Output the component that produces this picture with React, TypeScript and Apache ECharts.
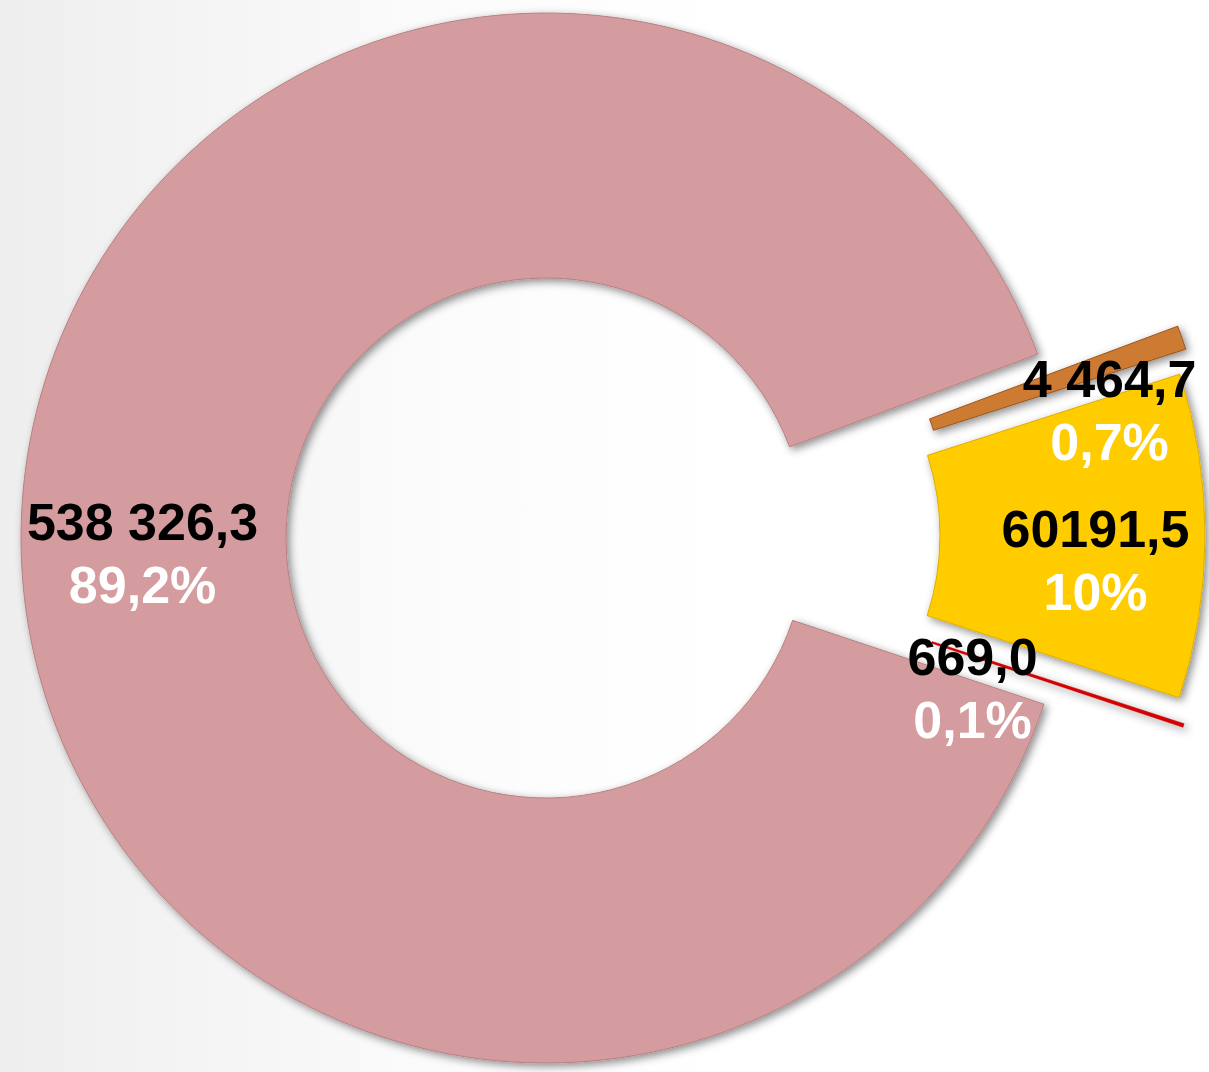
import React, { useEffect, useRef } from "react";
import * as echarts from "echarts";

// Data (clockwise order starting at the top of the gap)
const sliceNames = ["Сегмент 2", "Сегмент 3", "Сегмент 4", "Сегмент 1"];
const sliceValues = [4464.7, 60191.5, 669.0, 538326.3];
const valueLabels = ["4 464,7", "60191,5", "669,0", "538 326,3"];
const percentLabels = ["0,7%", "10%", "0,1%", "89,2%"];

// Styles / layout (kept apart from data)
const sliceColors = ["#CD7A33", "#FFCC00", "#D80000", "#D49C9E"];
const sliceBorders = ["#9A5518", "#E0AC00", "#B00000", "#B88082"];
const sliceCenters: [number, number][] = [
  [686, 510],
  [680, 535],
  [685, 561],
  [546, 538],
];
const labelShift: [number, number][] = [
  [50, 30],
  [20, 25],
  [-88, 4],
  [-8, 8],
];

export default function App() {
  const ref = useRef<HTMLDivElement>(null);
  useEffect(() => {
    if (!ref.current) return;
    const chart = echarts.init(ref.current, undefined, { renderer: "svg" });
    const textBase = {
      fontFamily: "Liberation Sans, Arial, sans-serif",
      fontWeight: "bold",
      fontSize: 52,
      lineHeight: 63,
    };
    const series = sliceValues.map((_, i) => ({
      type: "pie",
      center: sliceCenters[i],
      radius: [260, 525],
      startAngle: 20.5,
      clockwise: true,
      silent: true,
      avoidLabelOverlap: false,
      z: i === 3 ? 1 : 2,
      labelLine: { show: false },
      labelLayout: { dx: labelShift[i][0], dy: labelShift[i][1] },
      label: {
        show: true,
        position: "inside",
        formatter: () => `{v|${valueLabels[i]}}\n{p|${percentLabels[i]}}`,
        rich: {
          v: { ...textBase, color: "#000000" },
          p: { ...textBase, color: "#FFFFFF" },
        },
      },
      data: sliceValues.map((v, j) => ({
        value: v,
        name: sliceNames[j],
        itemStyle:
          j === i
            ? {
                color: sliceColors[j],
                borderColor: sliceBorders[j],
                borderWidth: j === 2 ? 0.5 : 1,
                shadowBlur: 8,
                shadowColor: "rgba(0,0,0,0.45)",
                shadowOffsetX: 3,
                shadowOffsetY: 3,
              }
            : { color: "rgba(0,0,0,0)", borderWidth: 0 },
        label: { show: j === i },
      })),
    }));

    chart.setOption({
      animation: false,
      backgroundColor: {
        type: "linear",
        x: 0,
        y: 0,
        x2: 1,
        y2: 0,
        colorStops: [
          { offset: 0, color: "#EEEEEE" },
          { offset: 0.35, color: "#FBFBFB" },
          { offset: 0.6, color: "#FFFFFF" },
          { offset: 1, color: "#FFFFFF" },
        ],
      },
      series,
    });
    return () => chart.dispose();
  }, []);
  return (
    <div
      ref={ref}
      style={{ position: "fixed", left: 0, top: 0, width: 1209, height: 1072 }}
    />
  );
}
